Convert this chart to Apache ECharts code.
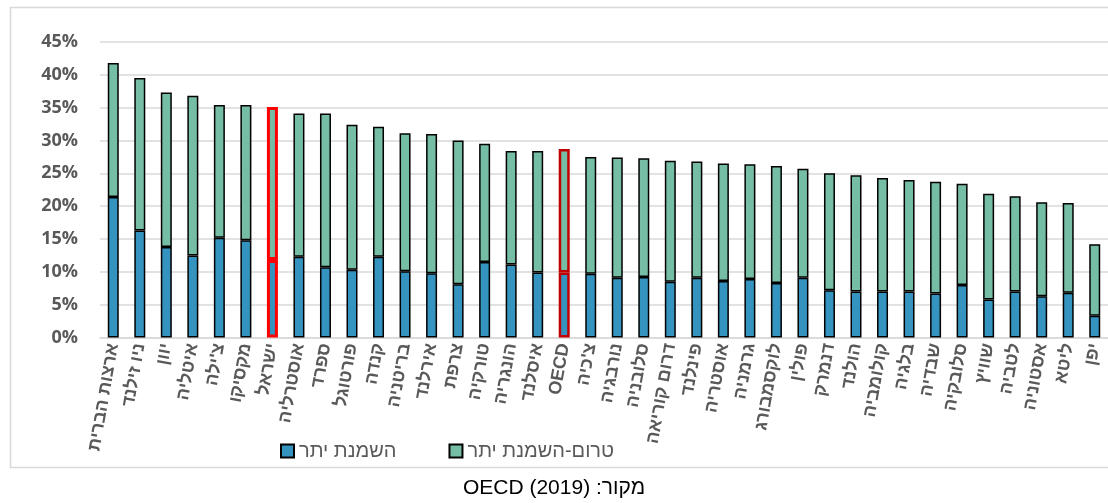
<!DOCTYPE html>
<html lang="he">
<head>
<meta charset="utf-8">
<script src="https://cdn.jsdelivr.net/npm/echarts@6/dist/echarts.min.js"></script>
<style>
  html, body { margin: 0; padding: 0; background: #ffffff; }
  #chart { width: 1108px; height: 503px; direction: rtl; }
</style>
</head>
<body>
<div id="chart"></div>
<script>
// Countries (plus the OECD average), sorted by total share of adults with excess weight
const categories = [
  'ארצות הברית', 'ניו זילנד', 'יוון', 'איטליה', "צ'ילה", 'מקסיקו', 'ישראל',
  'אוסטרליה', 'ספרד', 'פורטוגל', 'קנדה', 'בריטניה', 'אירלנד', 'צרפת',
  'טורקיה', 'הונגריה', 'איסלנד', 'OECD', "צ'כיה", 'נורבגיה', 'סלובניה',
  'דרום קוריאה', 'פינלנד', 'אוסטריה', 'גרמניה', 'לוקסמבורג', 'פולין',
  'דנמרק', 'הולנד', 'קולומביה', 'בלגיה', 'שבדיה', 'סלובקיה', 'שוויץ',
  'לטביה', 'אסטוניה', 'ליטא', 'יפן'
];

// Obesity share (%)
const obesityValues = [
  21.4, 16.3, 13.8, 12.5, 15.2, 14.8, 11.8, 12.3, 10.7, 10.3, 12.3, 10.1, 9.8,
  8.1, 11.5, 11.1, 9.9, 9.9, 9.7, 9.1, 9.2, 8.5, 9.1, 8.6, 8.9, 8.3, 9.1,
  7.2, 7.0, 7.0, 7.0, 6.7, 8.0, 5.8, 7.0, 6.3, 6.8, 3.3
];

// Pre-obesity share (%), stacked on top of obesity
const preObesityValues = [
  20.4, 23.2, 23.5, 24.3, 20.2, 20.6, 23.3, 21.8, 23.4, 22.1, 19.8, 21.0, 21.2,
  21.9, 18.0, 17.3, 18.5, 18.8, 17.8, 18.3, 18.1, 18.4, 17.7, 17.9, 17.5, 17.8,
  16.6, 17.8, 17.7, 17.3, 17.0, 17.0, 15.4, 16.1, 14.5, 14.3, 13.7, 10.9
];

const yTicks = { min: 0, max: 45, interval: 5 };

const seriesNames = ['השמנת יתר', 'טרום-השמנת יתר'];
const sourceText = 'מקור: OECD (2019)';

// Bars that get a red outline
const outlined = {
  'ישראל': { borderColor: '#ff0000', borderWidth: 3 },
  'OECD': { borderColor: '#c00000', borderWidth: 2.5 }
};

function withOutline(values) {
  return values.map((v, i) => {
    const o = outlined[categories[i]];
    return o ? { value: v, itemStyle: o } : v;
  });
}

const labelFont = '"Liberation Sans", "DejaVu Sans", Arial, sans-serif';
const grey = '#595959';

const chart = echarts.init(document.getElementById('chart'), null, { renderer: 'canvas' });

chart.setOption({
  backgroundColor: '#ffffff',
  animation: false,
  graphic: [
    {
      type: 'rect',
      shape: { x: 10.5, y: 7.5, width: 1120, height: 460 },
      style: { fill: 'none', stroke: '#d9d9d9', lineWidth: 1.5 },
      z: 0
    },
    {
      type: 'text',
      left: 'center',
      top: 478,
      style: {
        text: sourceText,
        fill: '#000000',
        font: '21px ' + labelFont
      }
    }
  ],
  legend: {
    data: seriesNames,
    left: 275,
    top: 436,
    itemWidth: 13,
    itemHeight: 13,
    itemGap: 52,
    icon: 'rect',
    textStyle: { color: grey, fontSize: 20, fontFamily: labelFont }
  },
  grid: { left: 100, right: 0, top: 42, bottom: 165.5, containLabel: false },
  xAxis: {
    type: 'category',
    data: categories,
    axisTick: { show: false },
    axisLine: { lineStyle: { color: '#d9d9d9', width: 1.5 } },
    axisLabel: {
      interval: 0,
      rotate: 80,
      margin: 6,
      color: grey,
      fontSize: 18,
      fontWeight: 'bold',
      fontFamily: labelFont
    }
  },
  yAxis: {
    type: 'value',
    min: yTicks.min,
    max: yTicks.max,
    interval: yTicks.interval,
    axisLine: { show: false },
    axisTick: { show: false },
    splitLine: { lineStyle: { color: '#d9d9d9', width: 1.5 } },
    axisLabel: {
      formatter: '{value}%',
      margin: 22,
      color: grey,
      fontSize: 18,
      fontWeight: 'bold',
      fontFamily: '"Open Sans", ' + labelFont
    }
  },
  series: [
    {
      name: seriesNames[0],
      type: 'bar',
      stack: 'total',
      barWidth: 11,
      data: withOutline(obesityValues),
      itemStyle: { color: '#3493bf', borderColor: '#000000', borderWidth: 1.5 }
    },
    {
      name: seriesNames[1],
      type: 'bar',
      stack: 'total',
      barWidth: 11,
      data: withOutline(preObesityValues),
      itemStyle: { color: '#75bda5', borderColor: '#000000', borderWidth: 1.5 }
    }
  ]
});
</script>
</body>
</html>
